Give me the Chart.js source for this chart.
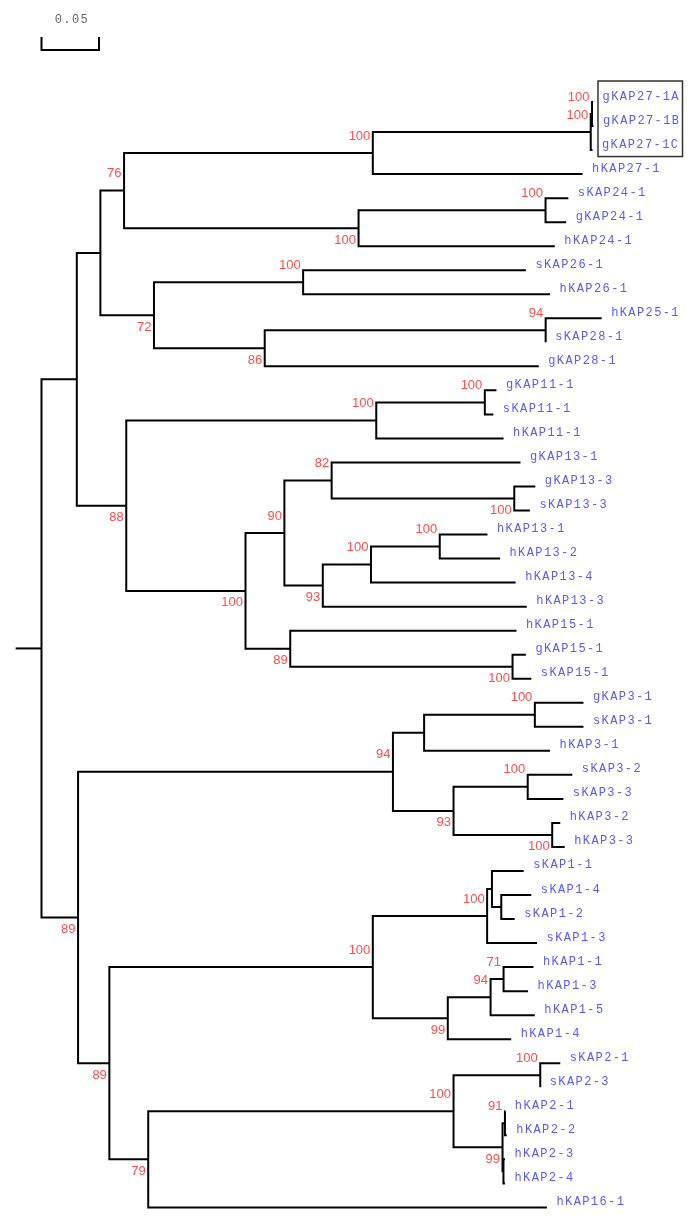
<!DOCTYPE html>
<html><head><meta charset="utf-8">
<script src="https://cdn.jsdelivr.net/npm/chart.js@4/dist/chart.umd.min.js"></script>
<style>html,body{margin:0;padding:0;background:#fff;}#wrap{width:700px;height:1228px;}</style>
</head><body><div id="wrap"><canvas id="c" width="700" height="1228"></canvas></div>
<script>
// ---- DATA ----
const leafNames = ['gKAP27-1A','gKAP27-1B','gKAP27-1C','hKAP27-1','sKAP24-1','gKAP24-1','hKAP24-1','sKAP26-1','hKAP26-1','hKAP25-1','sKAP28-1','gKAP28-1','gKAP11-1','sKAP11-1','hKAP11-1','gKAP13-1','gKAP13-3','sKAP13-3','hKAP13-1','hKAP13-2','hKAP13-4','hKAP13-3','hKAP15-1','gKAP15-1','sKAP15-1','gKAP3-1','sKAP3-1','hKAP3-1','sKAP3-2','sKAP3-3','hKAP3-2','hKAP3-3','sKAP1-1','sKAP1-4','sKAP1-2','sKAP1-3','hKAP1-1','hKAP1-3','hKAP1-5','hKAP1-4','sKAP2-1','sKAP2-3','hKAP2-1','hKAP2-2','hKAP2-3','hKAP2-4','hKAP16-1'];
// distance from root to each tip
const leafDepth = [0.4796,0.4800,0.4791,0.4705,0.4581,0.4562,0.4464,0.4212,0.4422,0.4871,0.4384,0.4324,0.3956,0.3929,0.4018,0.4165,0.4294,0.4247,0.3878,0.3987,0.4123,0.4220,0.4130,0.4212,0.4259,0.4713,0.4713,0.4422,0.4616,0.4538,0.4511,0.4550,0.4193,0.4259,0.4115,0.4309,0.4278,0.4231,0.4290,0.4084,0.4511,0.4337,0.4033,0.4046,0.4030,0.4030,0.4395];
// internal nodes: children (L = leaf, N = node)
const nodeChildren = [['N1','N25'],['N2','N13'],['N3','N9'],['N4','N7'],['N5','L3'],['N6','L2'],['L0','L1'],['N8','L6'],['L4','L5'],['N10','N11'],['L7','L8'],['N12','L11'],['L9','L10'],['N14','N16'],['N15','L14'],['L12','L13'],['N17','N23'],['N18','N20'],['L15','N19'],['L16','L17'],['N21','L21'],['N22','L20'],['L18','L19'],['L22','N24'],['L23','L24'],['N26','N32'],['N27','N29'],['N28','L27'],['L25','L26'],['N30','N31'],['L28','L29'],['L30','L31'],['N33','N40'],['N34','N37'],['N35','L35'],['L32','N36'],['L33','L34'],['N38','L39'],['N39','L38'],['L36','L37'],['N41','L46'],['N42','N43'],['L40','L41'],['N44','N45'],['L42','L43'],['L44','L45']];
const nodeDepth = [0,0.0307,0.0512,0.0718,0.2881,0.4776,0.4787,0.2757,0.4383,0.0978,0.2275,0.1941,0.4384,0.0737,0.2911,0.3855,0.1774,0.2112,0.2523,0.4111,0.2446,0.2865,0.3463,0.2163,0.4096,0.0318,0.3056,0.3327,0.4290,0.3583,0.4228,0.4441,0.0590,0.2881,0.3875,0.3917,0.3998,0.3533,0.3905,0.4018,0.0928,0.3583,0.4337,0.4009,0.4030,0.4017];
const nodeBootstrap = [null,null,null,76,100,100,100,100,100,72,100,86,94,88,100,100,100,90,82,100,93,100,100,89,100,89,94,null,100,93,100,100,89,100,100,null,null,99,94,71,79,100,100,99,91,null];
const boxedLeaves = [0, 2];
const scaleBarLength = 0.05;
const scaleBarLabel = '0.05';
const rootStub = -0.0225;

// ---- derived layout ----
const nodeY = [];
const parentSide = [];
function ref(s){ return {k:s[0], i:+s.slice(1)}; }
function yOf(s){ const r=ref(s); if(r.k==='L') return r.i;
  if(nodeY[r.i]===undefined){ const ch=nodeChildren[r.i]; nodeY[r.i]=(yOf(ch[0])+yOf(ch[ch.length-1]))/2; }
  return nodeY[r.i]; }
function dOf(s){ const r=ref(s); return r.k==='L'?leafDepth[r.i]:nodeDepth[r.i]; }
yOf('N0');
nodeChildren.forEach((ch,i)=>{ ch.forEach((c,j)=>{ const r=ref(c); if(r.k==='N') parentSide[r.i]=(j===0?'upper':'lower'); }); });

const datasets=[{data:[{x:rootStub,y:nodeY[0]},{x:nodeDepth[0],y:nodeY[0]}]}];
nodeChildren.forEach((ch,i)=>{
  const a=ch[0], b=ch[ch.length-1];
  datasets.push({data:[{x:dOf(a),y:yOf(a)},{x:nodeDepth[i],y:yOf(a)},{x:nodeDepth[i],y:yOf(b)},{x:dOf(b),y:yOf(b)}]});
});
datasets.forEach(d=>{ Object.assign(d,{showLine:true,borderColor:'#000',borderWidth:2,pointRadius:0,tension:0,fill:false,borderJoinStyle:'miter'}); });

function spacedText(ctx, txt, x, y, spacing, align){
  let w=0; const ws=[...txt].map(c=>{const m=ctx.measureText(c).width; w+=m; return m;});
  w += spacing*(txt.length-1);
  let cx = align==='center'? x-w/2 : x;
  ctx.textAlign='left';
  [...txt].forEach((c,k)=>{ ctx.fillText(c,cx,y); cx+=ws[k]+spacing; });
  return w;
}

const labelsPlugin = {
  id:'treeLabels',
  afterDatasetsDraw(chart){
    const ctx=chart.ctx, xs=chart.scales.x, ys=chart.scales.y;
    ctx.save();
    // leaf labels
    ctx.font='12px "Liberation Mono", "DejaVu Sans Mono", monospace';
    ctx.fillStyle='#5a5af5'; ctx.textBaseline='alphabetic';
    leafNames.forEach((n,i)=>{
      spacedText(ctx,n,xs.getPixelForValue(leafDepth[i])+9.5, ys.getPixelForValue(i)-2.5, 1.4, 'left');
    });
    // bootstrap labels
    ctx.font='13px "Liberation Sans", Arial, sans-serif';
    ctx.fillStyle='#ff4d4d'; ctx.textAlign='right';
    nodeBootstrap.forEach((b,i)=>{
      if(b===null) return;
      const px=xs.getPixelForValue(nodeDepth[i])-2.5, py=ys.getPixelForValue(nodeY[i]);
      ctx.fillText(String(b), px, parentSide[i]==='upper'? py-13.5 : py+15.5);
    });
    // box around boxed leaves
    let maxTip=-1; for(let i=boxedLeaves[0];i<=boxedLeaves[1];i++) maxTip=Math.max(maxTip,leafDepth[i]);
    const bl=xs.getPixelForValue(maxTip)+4.5;
    const bt=ys.getPixelForValue(boxedLeaves[0])-21, bb=ys.getPixelForValue(boxedLeaves[1])+6.5;
    ctx.strokeStyle='#333'; ctx.lineWidth=1.5;
    ctx.strokeRect(bl, bt, 84.5, bb-bt);
    // scale bar
    const x0=xs.getPixelForValue(0), x1=xs.getPixelForValue(scaleBarLength);
    ctx.strokeStyle='#000'; ctx.lineWidth=2;
    ctx.beginPath(); ctx.moveTo(x0,37); ctx.lineTo(x0,50); ctx.lineTo(x1,50); ctx.lineTo(x1,37); ctx.stroke();
    ctx.font='12px "Liberation Mono", "DejaVu Sans Mono", monospace';
    ctx.fillStyle='#666';
    spacedText(ctx, scaleBarLabel, (x0+x1)/2+1, 22.5, 1.4, 'center');
    ctx.restore();
  }
};

new Chart(document.getElementById('c'),{
  type:'scatter',
  data:{datasets},
  options:{
    responsive:false, animation:false, events:[],
    layout:{padding:0},
    plugins:{legend:{display:false},tooltip:{enabled:false}},
    scales:{
      x:{type:'linear',display:false,min:-0.03609,max:0.57261},
      y:{type:'linear',display:false,reverse:true,min:-4.245,max:46.857}
    }
  },
  plugins:[labelsPlugin]
});
</script></body></html>
